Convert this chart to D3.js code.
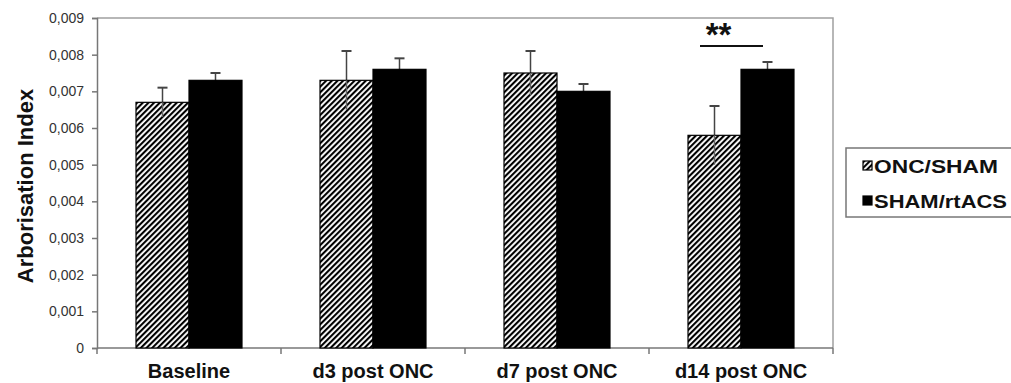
<!DOCTYPE html>
<html>
<head>
<meta charset="utf-8">
<script src="https://cdn.jsdelivr.net/npm/d3@7"></script>
<style>
  body { margin: 0; background: #fff; }
  text { font-family: "Liberation Sans", Arial, sans-serif; }
</style>
</head>
<body>
<svg id="chart" width="1011" height="383"></svg>
<script>
const categories = ["Baseline", "d3 post ONC", "d7 post ONC", "d14 post ONC"];
const seriesNames = ["ONC/SHAM", "SHAM/rtACS"];
const oncSham = [0.0067, 0.0073, 0.0075, 0.0058];
const oncShamErr = [0.0004, 0.0008, 0.0006, 0.0008];
const shamRtacs = [0.0073, 0.0076, 0.0070, 0.0076];
const shamRtacsErr = [0.0002, 0.0003, 0.0002, 0.0002];
const yTicks = [0, 0.001, 0.002, 0.003, 0.004, 0.005, 0.006, 0.007, 0.008, 0.009];

const svg = d3.select("#chart");
const plotLeft = 97, plotRight = 833, plotTop = 18, plotBottom = 348;

// hatch pattern for ONC/SHAM
const defs = svg.append("defs");
defs.append("pattern")
    .attr("id", "hatch")
    .attr("patternUnits", "userSpaceOnUse")
    .attr("width", 4)
    .attr("height", 4)
    .attr("patternTransform", "rotate(45)")
  .call(p => {
    p.append("rect").attr("width", 4).attr("height", 4).attr("fill", "#fff");
    p.append("rect").attr("width", 2.1).attr("height", 4).attr("fill", "#000");
  });

const x = d3.scaleBand().domain(categories).range([plotLeft, plotRight]);
const x1 = d3.scaleBand().domain(seriesNames).range([0, x.bandwidth()]).paddingOuter(0.736);
const y = d3.scaleLinear().domain([0, 0.009]).range([plotBottom, plotTop]);

// plot frame (top + right)
svg.append("path")
    .attr("d", `M${plotLeft},${plotTop}H${plotRight}V${plotBottom}`)
    .attr("fill", "none").attr("stroke", "#a0a0a0").attr("stroke-width", 1.5);

// y axis
const yAxis = svg.append("g")
    .attr("transform", `translate(${plotLeft},0)`)
    .call(d3.axisLeft(y).tickValues(yTicks).tickSize(5).tickPadding(8)
      .tickFormat(d => d === 0 ? "0" : d3.format(".3f")(d).replace(".", ",")));
yAxis.select(".domain").attr("stroke", "#777").attr("stroke-width", 1.5);
yAxis.selectAll(".tick line").attr("stroke", "#777").attr("stroke-width", 1.5);
yAxis.selectAll(".tick text")
    .attr("font-size", 14).attr("fill", "#333")
    .style("font-family", "'Liberation Sans', Arial, sans-serif");

// x axis with ticks at category boundaries
const xg = svg.append("g");
xg.append("line")
    .attr("x1", plotLeft).attr("x2", plotRight).attr("y1", plotBottom).attr("y2", plotBottom)
    .attr("stroke", "#777").attr("stroke-width", 1.5);
xg.selectAll("line.tk")
    .data([categories[0]].concat(categories))
    .enter().append("line")
    .attr("class", "tk")
    .attr("x1", (d, i) => i === 0 ? plotLeft : x(d) + x.bandwidth())
    .attr("x2", (d, i) => i === 0 ? plotLeft : x(d) + x.bandwidth())
    .attr("y1", plotBottom).attr("y2", plotBottom + 6)
    .attr("stroke", "#777").attr("stroke-width", 1.5);
xg.selectAll("text")
    .data(categories)
    .enter().append("text")
    .attr("x", d => x(d) + x.bandwidth() / 2)
    .attr("y", 378)
    .attr("text-anchor", "middle")
    .attr("font-size", 20).attr("font-weight", "bold").attr("fill", "#111")
    .text(d => d);

// y title
svg.append("text")
    .attr("transform", `translate(33,${(plotTop + plotBottom) / 2 + 3}) rotate(-90)`)
    .attr("text-anchor", "middle")
    .attr("font-size", 22).attr("font-weight", "bold").attr("fill", "#111")
    .text("Arborisation Index");

// bars
const rows = categories.map((c, i) => ({
  cat: c,
  vals: [
    { key: seriesNames[0], v: oncSham[i], e: oncShamErr[i] },
    { key: seriesNames[1], v: shamRtacs[i], e: shamRtacsErr[i] }
  ]
}));

const groups = svg.selectAll("g.grp")
    .data(rows)
    .enter().append("g")
    .attr("class", "grp")
    .attr("transform", d => `translate(${x(d.cat)},0)`);

// error bars (drawn first so bar covers lower half)
groups.selectAll("g.err")
    .data(d => d.vals)
    .enter().append("g")
    .attr("class", "err")
    .each(function(d) {
      const cx = x1(d.key) + x1.bandwidth() / 2;
      const g = d3.select(this);
      g.append("line")
        .attr("x1", cx).attr("x2", cx)
        .attr("y1", y(d.v - d.e)).attr("y2", y(d.v + d.e))
        .attr("stroke", "#444").attr("stroke-width", 1.5);
      g.append("line")
        .attr("x1", cx - 5).attr("x2", cx + 5)
        .attr("y1", y(d.v + d.e)).attr("y2", y(d.v + d.e))
        .attr("stroke", "#444").attr("stroke-width", 2);
    });

groups.selectAll("rect")
    .data(d => d.vals)
    .enter().append("rect")
    .attr("x", d => x1(d.key))
    .attr("y", d => y(d.v))
    .attr("width", x1.bandwidth())
    .attr("height", d => y(0) - y(d.v))
    .attr("fill", d => d.key === seriesNames[0] ? "url(#hatch)" : "#000")
    .attr("stroke", "#000").attr("stroke-width", 1.2);

// error line visible over hatched bar (upper part inside bar)
groups.selectAll("line.inner")
    .data(d => [d.vals[0]])
    .enter().append("line")
    .attr("class", "inner")
    .attr("x1", d => x1(d.key) + x1.bandwidth() / 2)
    .attr("x2", d => x1(d.key) + x1.bandwidth() / 2)
    .attr("y1", d => y(d.v))
    .attr("y2", d => y(d.v - d.e))
    .attr("stroke", "#666").attr("stroke-width", 1.5);

// significance marker on d14
const sigX0 = x("d14 post ONC") + x1(seriesNames[0]) + 12;
const sigX1 = x("d14 post ONC") + x1(seriesNames[1]) + 22;
svg.append("line")
    .attr("x1", sigX0).attr("x2", sigX1)
    .attr("y1", 46).attr("y2", 46)
    .attr("stroke", "#111").attr("stroke-width", 2);
svg.append("text")
    .attr("x", (sigX0 + sigX1) / 2 - 13)
    .attr("y", 46)
    .attr("text-anchor", "middle")
    .attr("font-size", 33).attr("font-weight", "bold").attr("fill", "#111")
    .text("**");

// legend
const lg = svg.append("g");
lg.append("rect")
    .attr("x", 846).attr("y", 148).attr("width", 170).attr("height", 69)
    .attr("fill", "#fff").attr("stroke", "#777").attr("stroke-width", 1.5);
const legendItems = [
  { name: seriesNames[0], fill: "url(#hatch)", y: 173, len: 124 },
  { name: seriesNames[1], fill: "#000", y: 208, len: 133 }
];
lg.selectAll("rect.sw")
    .data(legendItems)
    .enter().append("rect")
    .attr("class", "sw")
    .attr("x", 863).attr("y", d => d.y - 12)
    .attr("width", 9).attr("height", 9)
    .attr("fill", d => d.fill)
    .attr("stroke", "#000").attr("stroke-width", 1.2);
lg.selectAll("text")
    .data(legendItems)
    .enter().append("text")
    .attr("x", 874).attr("y", d => d.y)
    .attr("font-size", 19).attr("font-weight", "bold").attr("fill", "#111")
    .attr("textLength", d => d.len)
    .attr("lengthAdjust", "spacingAndGlyphs")
    .text(d => d.name);
</script>
</body>
</html>
